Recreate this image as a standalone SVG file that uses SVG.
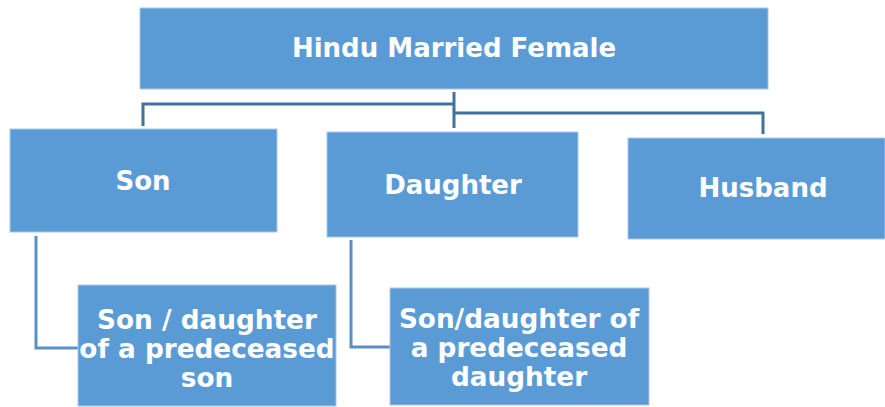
<svg xmlns="http://www.w3.org/2000/svg" width="885" height="407" viewBox="0 0 885 407">
<style>
.box{fill:#5B9BD5;stroke:#A9C8EA;stroke-width:1}
.t{font-family:"DejaVu Sans",Verdana,sans-serif;font-weight:bold;fill:#FFFFFF;text-anchor:middle}
.c1{fill:none;stroke:#41719C;stroke-width:3}
.c2{fill:none;stroke:#5A8FC8;stroke-width:3}
</style>
<rect width="885" height="407" fill="#FFFFFF"/>
<g id="connectors">
<path class="c1" d="M454 92 V128"/>
<path class="c1" d="M454 104 H143 V126"/>
<path class="c1" d="M454 113 H763 V134"/>
<path class="c2" d="M36 236 V348 H78"/>
<path class="c2" d="M351 240 V347 H390"/>
</g>
<g id="hindu-married-female">
<rect class="box" x="140" y="8" width="628" height="81"/>
<text class="t" x="454" y="57" font-size="26">Hindu Married Female</text>
</g>
<g id="son">
<rect class="box" x="10" y="129" width="267" height="103"/>
<text class="t" x="143" y="190" font-size="26">Son</text>
</g>
<g id="daughter">
<rect class="box" x="327" y="132" width="251" height="105"/>
<text class="t" x="453" y="194" font-size="26">Daughter</text>
</g>
<g id="husband">
<rect class="box" x="628" y="138" width="257" height="101"/>
<text class="t" x="763" y="197" font-size="26">Husband</text>
</g>
<g id="grandchild-son">
<rect class="box" x="78" y="285" width="258" height="121"/>
<text class="t" font-size="26.3"><tspan x="207" y="329">Son / daughter</tspan><tspan x="207" y="358">of a predeceased</tspan><tspan x="207" y="387">son</tspan></text>
</g>
<g id="grandchild-daughter">
<rect class="box" x="390" y="288" width="259" height="117"/>
<text class="t" font-size="26.3"><tspan x="519" y="328">Son/daughter of</tspan><tspan x="519" y="357">a predeceased</tspan><tspan x="519" y="386">daughter</tspan></text>
</g>
</svg>
